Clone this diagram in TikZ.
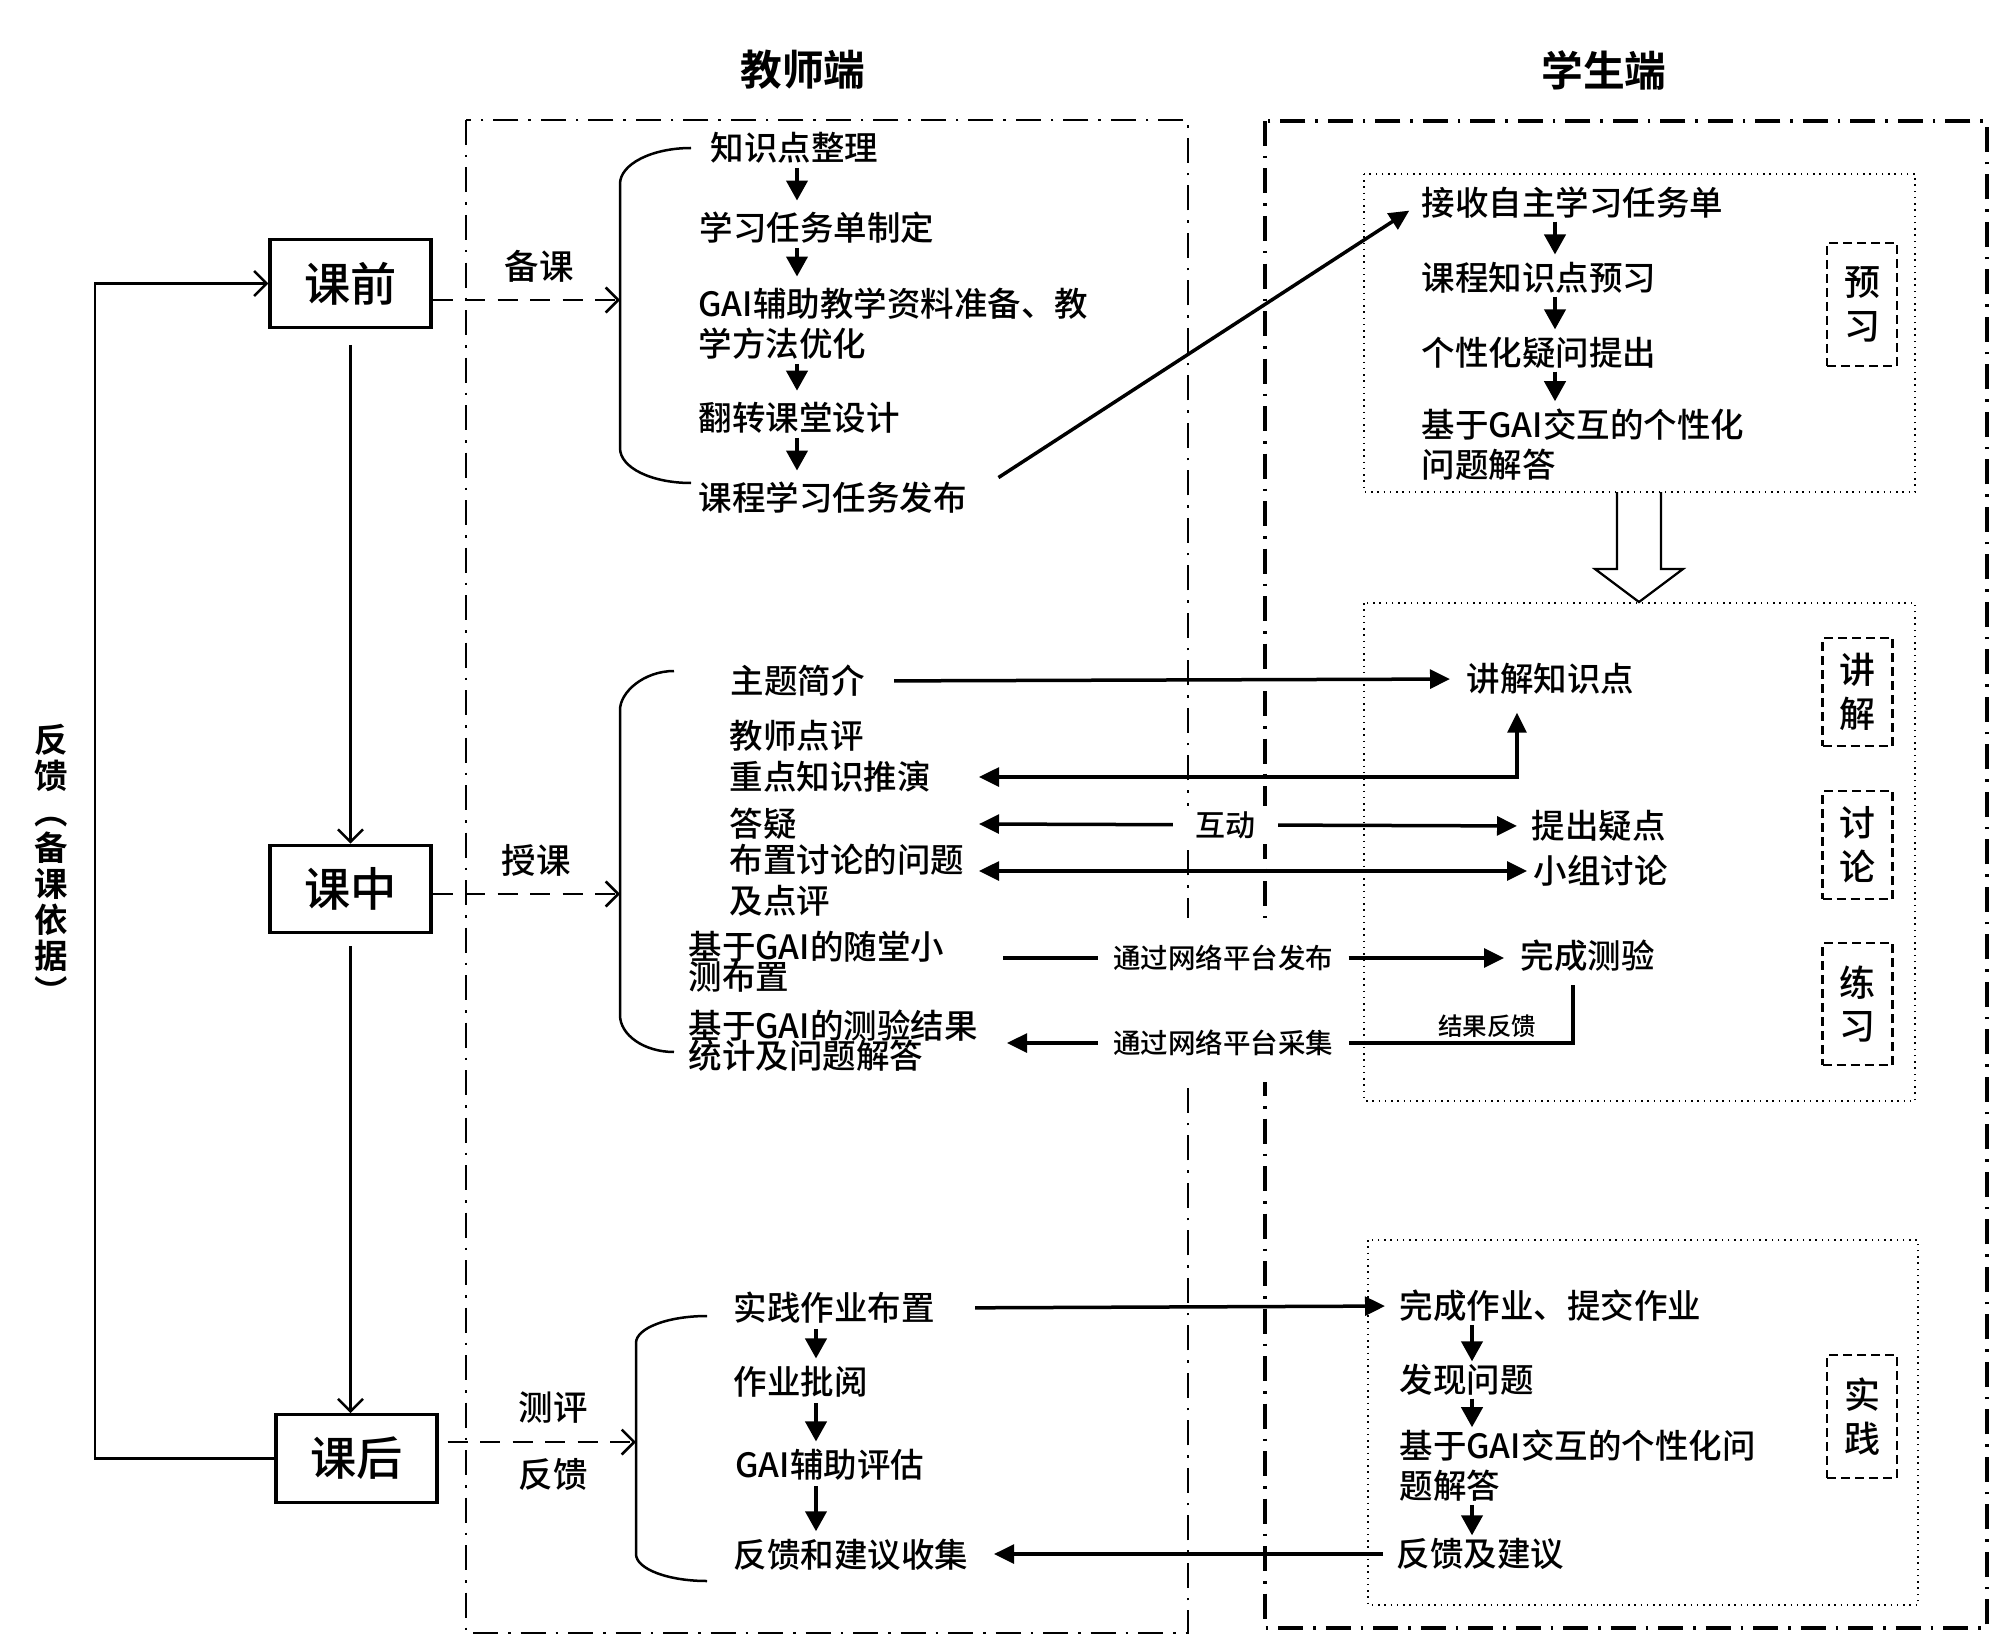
\documentclass[tikz,border=0pt]{standalone}
\usepackage{fontspec}
\IfFontExistsTF{Noto Sans CJK SC Medium}
  {\setmainfont{Noto Sans CJK SC Medium}[BoldFont={Noto Sans CJK SC Bold}]}
  {\setmainfont{Noto Sans CJK SC}[FakeBold=0.9]}
\usetikzlibrary{arrows.meta}

\newcommand\tightskip{\lineskiplimit=-20pt\relax}

\tikzset{
  tchframe/.style={line width=1.1pt, dash pattern=on 10pt off 4pt on 1pt off 4pt},
  stuframe/.style={line width=1.5pt, dash pattern=on 10pt off 4pt on 1pt off 4pt},
  dotframe/.style={line width=0.6pt, dash pattern=on 0.6pt off 1.9pt},
  tagbox/.style={draw, line width=1pt, dash pattern=on 3.6pt off 2pt, minimum width=28pt, inner sep=0pt, align=center, font=\fontsize{14.4}{17.5}\selectfont},
  phasebox/.style={draw, line width=1.3pt, minimum width=64.4pt, minimum height=35pt, inner sep=0pt, font=\fontsize{18.5}{20}\selectfont},
  headtext/.style={inner sep=0pt, font=\bfseries\fontsize{16.7}{20}\selectfont},
  itemtext/.style={anchor=west, inner sep=0pt, align=left, font=\fontsize{13.4}{16}\selectfont},
  tighttext/.style={itemtext, font=\fontsize{13.4}{12}\selectfont, execute at begin node=\tightskip},
  sidetext/.style={inner sep=0pt, font=\fontsize{13.8}{16}\selectfont},
  netlabel/.style={inner xsep=6pt, inner ysep=1pt, font=\fontsize{11}{13}\selectfont},
  steparrow/.style={-{Triangle[length=8pt,width=8.5pt]}, line width=1.4pt},
  linkline/.style={line width=1.4pt},
  linkarrow/.style={linkline, -{Triangle[length=8pt,width=7.5pt]}},
  bothlink/.style={linkline, {Triangle[length=8pt,width=7.5pt]}-{Triangle[length=8pt,width=7.5pt]}},
  openarrow/.style={-{Straight Barb[length=5pt,width=10pt]}, line width=1pt},
  dasharrow/.style={openarrow, dash pattern=on 8pt off 5pt},
  brace/.style={line width=1pt},
}

\begin{document}
\begin{tikzpicture}[x=0.4pt,y=0.4pt,yscale=-1]
        \useasboundingbox (0,0) rectangle (2000,1645);

        %Shape: Frames
        \draw[tchframe] (466,120) rectangle (1188,1633);
        \draw[stuframe] (1265,121) rectangle (1987,1628);
        \draw[dotframe] (1364,174) rectangle (1915,492);
        \draw[dotframe] (1364,603) rectangle (1915,1101);
        \draw[dotframe] (1368,1240) rectangle (1918,1605);
        \fill[white] (1170,918) rectangle (1285,1082);

        % Text Node
        \node[headtext] (tch) at (803,70) {教师端};
        \node[headtext] (stu) at (1604,70) {学生端};

        % Phase boxes
        \node[phasebox] (kq) at (350.5,283.5) {课前};
        \node[phasebox] (kz) at (350.5,889) {课中};
        \node[phasebox] (kh) at (356.5,1458.5) {课后};
        \node[inner sep=0pt, align=center, font=\bfseries\fontsize{13.4}{14.4}\selectfont] (fk) at (51,864) {反\\馈\\︵\\备\\课\\依\\据\\︶};

        % Text Node
        \node[sidetext] (bk) at (539,266) {备课};
        \node[sidetext] (sk) at (536,860) {授课};
        \node[sidetext] (cp) at (553,1408) {测评};
        \node[sidetext] (fkb) at (553,1474) {反馈};

        % Text Node: before class
        \node[itemtext] (t1) at (710,148) {知识点整理};
        \node[itemtext] (t2) at (699,228) {学习任务单制定};
        \node[itemtext] (t3) at (698,324) {GAI辅助教学资料准备、教\\学方法优化};
        \node[itemtext] (t4) at (698,418) {翻转课堂设计};
        \node[itemtext] (t5) at (698,498) {课程学习任务发布};
        \node[itemtext] (s1) at (1421,203) {接收自主学习任务单};
        \node[itemtext] (s2) at (1421,278) {课程知识点预习};
        \node[itemtext] (s3) at (1421,353) {个性化疑问提出};
        \node[itemtext] (s4) at (1421,445) {基于GAI交互的个性化\\问题解答};
        \node[tagbox, minimum height=49.2pt] (tagyx) at (1862,304.5) {预\\习};

        % Text Node: in class
        \node[itemtext] (z1) at (730,681) {主题简介};
        \node[itemtext] (z2) at (729,736) {教师点评};
        \node[itemtext] (z3) at (729,777) {重点知识推演};
        \node[itemtext] (z4) at (729,824) {答疑};
        \node[itemtext] (z5) at (729,860) {布置讨论的问题};
        \node[itemtext] (z6) at (729,901) {及点评};
        \node[tighttext] (z7) at (688,962) {基于GAI的随堂小\\测布置};
        \node[tighttext] (z8) at (688,1041) {基于GAI的测验结果\\统计及问题解答};
        \node[itemtext] (k1) at (1466,679) {讲解知识点};
        \node[itemtext] (k2) at (1531,826) {提出疑点};
        \node[itemtext] (k3) at (1533,871) {小组讨论};
        \node[itemtext] (k4) at (1520,956) {完成测验};
        \node[tagbox, minimum height=43.2pt] (tagjj) at (1857.5,692) {讲\\解};
        \node[tagbox, minimum height=43.2pt] (tagtl) at (1857.5,845) {讨\\论};
        \node[tagbox, minimum height=48.8pt] (taglx) at (1857.5,1004) {练\\习};
        \node[netlabel] (fb) at (1223,958) {通过网络平台发布};
        \node[netlabel] (cj) at (1223,1043) {通过网络平台采集};
        \node[inner sep=0pt, font=\fontsize{9.8}{12}\selectfont] (jg) at (1487,1026) {结果反馈};

        % Text Node: after class
        \node[itemtext] (h1) at (733,1308) {实践作业布置};
        \node[itemtext] (h2) at (733,1382) {作业批阅};
        \node[itemtext] (h3) at (735,1465) {GAI辅助评估};
        \node[itemtext] (h4) at (733,1555) {反馈和建议收集};
        \node[itemtext] (p1) at (1399,1306) {完成作业、提交作业};
        \node[itemtext] (p2) at (1399,1380) {发现问题};
        \node[itemtext] (p3) at (1399,1466) {基于GAI交互的个性化问\\题解答};
        \node[itemtext] (p4) at (1396,1554) {反馈及建议};
        \node[tagbox, minimum height=49.2pt] (tagsj) at (1862,1416.5) {实\\践};

        % Coordinates
        \coordinate (ta) at (797,0);
        \coordinate (sa) at (1555,0);
        \coordinate (ha) at (816,0);
        \coordinate (pa) at (1472,0);
        \coordinate (ux) at (1517,0);
        \coordinate (tipL) at (979,0);
        \coordinate (tipC) at (1007,0);
        \coordinate (tipR) at (994,0);
        \coordinate (fbx) at (1003,0);
        \coordinate (fx) at (1573,0);
        \coordinate (lp) at (95,800);
        \coordinate (b1) at (620,300);
        \coordinate (b2) at (620,894);
        \coordinate (b3) at (636,1442);

        %Straight Lines: phases
        \draw[openarrow, shorten <=6.4pt] (kq.south) -- (kz.north);
        \draw[openarrow, shorten <=4.8pt] (kz.south) -- (kz.south |- kh.north);
        \draw[openarrow] (kh.west) -| (lp) |- (kq.west);
        \draw[dasharrow] (kq.east |- b1) -- (b1);
        \draw[dasharrow] (kz.east |- b2) -- (b2);
        \draw[dasharrow, shorten <=3.6pt] (kh.east |- b3) -- (b3);

        %Shape: Braces
        \draw[brace] (691,148) .. controls (652,148) and (620,164) .. (620,184) -- (620,448) .. controls (620,468) and (652,483) .. (691,483);
        \draw[brace] (674,671) .. controls (644,671) and (620,692) .. (620,710) -- (620,1015) .. controls (620,1035) and (644,1052) .. (674,1052);
        \draw[brace] (707,1316) .. controls (668,1316) and (636,1328) .. (636,1343) -- (636,1554) .. controls (636,1569) and (668,1581) .. (707,1581);

        %Straight Lines: steps
        \foreach \a/\b in {t1/t2,t2/t3,t3/t4,t4/t5}
            \draw[steparrow, shorten <=1.5pt, shorten >=4.5pt] (\a.south -| ta) -- (\b.north -| ta);
        \foreach \a/\b in {s1/s2,s2/s3,s3/s4}
            \draw[steparrow, shorten <=1pt, shorten >=3pt] (\a.south -| sa) -- (\b.north -| sa);
        \foreach \a/\b in {h1/h2,h2/h3,h3/h4}
            \draw[steparrow, shorten <=2pt, shorten >=3pt] (\a.south -| ha) -- (\b.north -| ha);
        \foreach \a/\b in {p1/p2,p2/p3,p3/p4}
            \draw[steparrow, shorten <=1pt, shorten >=1pt] (\a.south -| pa) -- (\b.north -| pa);

        %Straight Lines: teacher and student
        \draw[linkarrow, shorten <=15pt, shorten >=5.6pt] (t5.east) -- (s1.west);
        \draw[linkarrow, shorten <=11.6pt, shorten >=6.4pt] (z1.east) -- (k1.west);
        \draw[bothlink, shorten >=7pt] (z3.east -| tipL) -| (k1.south -| ux);
        \draw[bothlink, shorten >=5.6pt] (z4.east -| tipL) -- node[pos=0.446, fill=white, inner xsep=9pt, inner ysep=2pt, font=\fontsize{12}{14}\selectfont] (hd) {互动} (k2.west);
        \draw[bothlink, shorten >=2.4pt] (k3.west -| tipL) -- (k3.west);
        \draw[linkline] (fb.west -| fbx) -- (fb.west);
        \draw[linkarrow, shorten >=6.4pt] (fb.east) -- (fb.east -| k4.west);
        \draw[linkline, shorten <=5.2pt] (k4.south -| fx) |- (cj.east);
        \draw[linkarrow] (cj.west) -- (cj.west -| tipC);
        \draw[linkarrow, shorten <=16pt, shorten >=5.6pt] (h1.east) -- (p1.west);
        \draw[linkarrow, shorten <=5.2pt] (p4.west) -- (p4.west -| tipR);

        %Shape: Hollow Arrow
        \draw[line width=0.9pt] (1617,492) -- (1617,569) -- (1595,569) -- (1639,602) -- (1683,569) -- (1661,569) -- (1661,492);

\end{tikzpicture}
\end{document}
